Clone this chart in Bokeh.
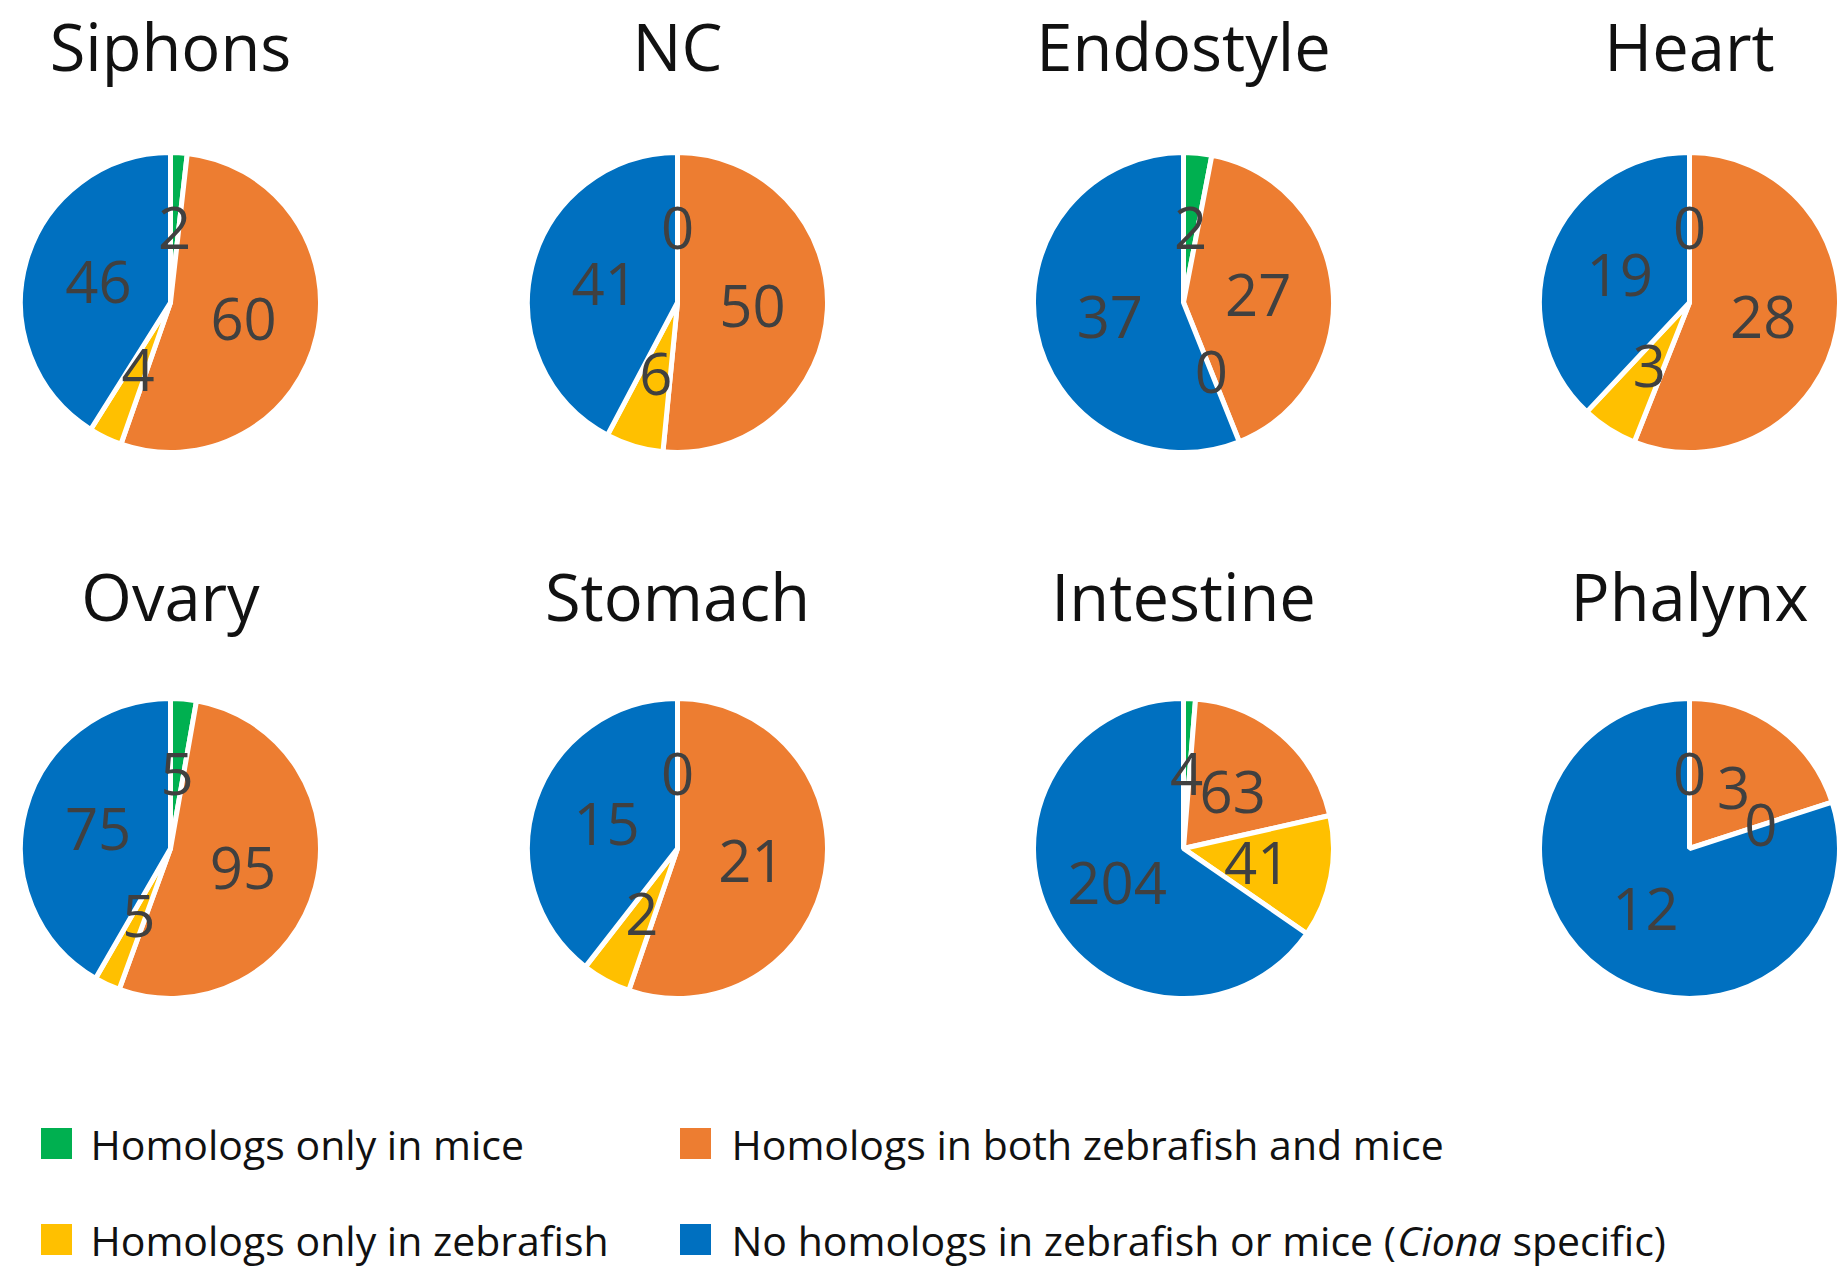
import math
from bokeh.plotting import figure
from bokeh.models import ColumnDataSource, Range1d
from bokeh.core.properties import value
from bokeh.embed import file_html
from bokeh.resources import INLINE

# ---------------- data ----------------
organs = ["Siphons", "NC", "Endostyle", "Heart", "Ovary", "Stomach", "Intestine", "Phalynx"]
mice_only = [2, 0, 2, 0, 5, 0, 4, 0]
both_zf_mice = [60, 50, 27, 28, 95, 21, 63, 3]
zebrafish_only = [4, 6, 0, 3, 5, 2, 41, 0]
ciona_specific = [46, 41, 37, 19, 75, 15, 204, 12]

legend_labels = [
    "Homologs only in mice",
    "Homologs in both zebrafish and mice",
    "Homologs only in zebrafish",
    "No homologs in zebrafish or mice (",
]
legend_italic = "Ciona"
legend_tail = "specific)"
colors = ["#00B050", "#ED7D31", "#FFC000", "#0070C0"]

# ---------------- layout ----------------
W, H = 1839, 1269
col_x = [170, 677, 1183, 1689]
row_py = [302, 848]            # pie centres, px from top
title_py = [45, 595]           # title centres, px from top
R = 150
LABEL_FRAC = 0.5
FONT = value("Open Sans")

p = figure(width=W, height=H, x_range=Range1d(0, W), y_range=Range1d(0, H),
           output_backend="svg", toolbar_location=None, min_border=0,
           x_axis_location=None, y_axis_location=None)
p.xgrid.visible = False
p.ygrid.visible = False
p.outline_line_color = None
p.background_fill_color = "white"
p.border_fill_color = "white"

series = [mice_only, both_zf_mice, zebrafish_only, ciona_specific]

wx, wy, ws, we, wc = [], [], [], [], []
lx, ly, lt = [], [], []
tx, ty, tt = [], [], []
for i, organ in enumerate(organs):
    cx = col_x[i % 4]
    cy = H - row_py[i // 4]
    tx.append(cx)
    ty.append(H - title_py[i // 4])
    tt.append(organ)
    vals = [s[i] for s in series]
    tot = float(sum(vals))
    cum = 0.0
    for k, v in enumerate(vals):
        t0 = cum / tot * 2 * math.pi
        t1 = (cum + v) / tot * 2 * math.pi
        if v > 0:
            wx.append(cx); wy.append(cy)
            ws.append(math.pi / 2 - t0)
            we.append(math.pi / 2 - t1)
            wc.append(colors[k])
        mid = (t0 + t1) / 2
        lx.append(cx + LABEL_FRAC * R * math.sin(mid))
        ly.append(cy + LABEL_FRAC * R * math.cos(mid))
        lt.append(str(v))
        cum += v

wsrc = ColumnDataSource(dict(x=wx, y=wy, s=ws, e=we, c=wc))
p.wedge(x="x", y="y", radius=R, start_angle="s", end_angle="e", direction="clock",
        fill_color="c", line_color="white", line_width=5, source=wsrc)

p.text(x=lx, y=ly, text=lt, text_align="center", text_baseline="middle",
       text_font=FONT, text_font_size="58px", text_color="#404040")

p.text(x=tx, y=ty, text=tt, text_align="center", text_baseline="middle",
       text_font=FONT, text_font_size="65px", text_color="#111111")

# ---------------- legend ----------------
sq_x = [56, 695, 56, 695]
sq_py = [1143, 1143, 1239, 1239]
txt_x = [90, 731, 90, 731]
LEG_PX = 41
p.rect(x=sq_x, y=[H - v for v in sq_py], width=31, height=31,
       fill_color=colors, line_color=None)
p.text(x=txt_x, y=[H - v for v in sq_py], text=legend_labels, text_align="left",
       text_baseline="middle", text_font=FONT, text_font_size=f"{LEG_PX}px",
       text_color="#111111")

# approximate Open Sans advance widths (em) to place the italic word
EM = {' ': .26, 'N': .744, 'o': .604, 'h': .614, 'm': .930, 'l': .253, 'g': .548,
      's': .477, 'i': .253, 'n': .614, 'z': .477, 'e': .561, 'b': .613, 'r': .408,
      'a': .556, 'f': .339, 'c': .476, '(': .297, ')': .297, 'p': .613}
def width(s):
    return sum(EM.get(ch, .55) for ch in s) * LEG_PX

x_it = txt_x[3] + width(legend_labels[3])
x_tail = x_it + (2.55 + 0.26) * LEG_PX
p.text(x=[x_it], y=[H - sq_py[3]], text=[legend_italic], text_align="left",
       text_baseline="middle", text_font=FONT, text_font_size=f"{LEG_PX}px",
       text_font_style="italic", text_color="#111111")
p.text(x=[x_tail], y=[H - sq_py[3]], text=[legend_tail], text_align="left",
       text_baseline="middle", text_font=FONT, text_font_size=f"{LEG_PX}px",
       text_color="#111111")

open("out.html", "w").write(file_html(p, INLINE))
